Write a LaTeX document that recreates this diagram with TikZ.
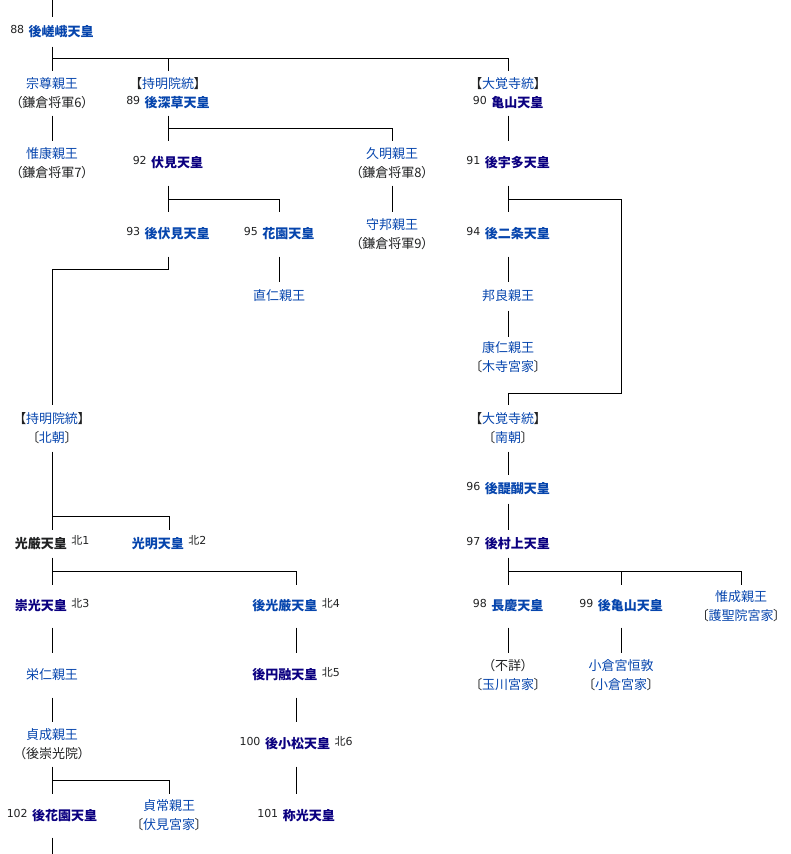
\documentclass[tikz,border=0pt]{standalone}
\usepackage{fontspec}
\setmainfont{Noto Sans CJK JP}[RawFeature=+palt]
\newfontfamily\numfont{DejaVu Sans}
\usepackage{tikz}
\definecolor{linkblue}{HTML}{0645AD}
\definecolor{visited}{HTML}{0B0080}
\definecolor{ink}{HTML}{202122}

\newcommand{\ban}[1]{\raisebox{3pt}[0pt][0pt]{\fontsize{11pt}{11pt}\selectfont\numfont #1}\hspace{4.5pt}}
\newcommand{\kita}[1]{\hspace{4.5pt}\raisebox{3.5pt}[0pt][0pt]{\fontsize{11pt}{11pt}\selectfont 北{\numfont #1}}}
\newcommand{\tenno}[1]{\textbf{\textcolor{linkblue}{#1}}}
\newcommand{\tennov}[1]{\textbf{\textcolor{visited}{#1}}}
\newcommand{\shinno}[1]{\textcolor{linkblue}{#1}}

\begin{document}
\begin{tikzpicture}[x=1pt, y=-1pt, line width=1pt,
    cell/.style={inner sep=0pt, align=center, text=ink,
      font=\fontsize{13pt}{19pt}\selectfont, minimum height=#1pt}]
  \useasboundingbox (0,0) rectangle (790,854);

  % kamakura
  \node[cell=29] (g88) at (52,31.5) {\ban{88}\tenno{後嵯峨天皇}};
  \node[cell=44] (munetaka) at (52,93) {\shinno{宗尊親王}\\（鎌倉将軍6）};
  \node[cell=44] (g89) at (168,93) {【\shinno{持明院統}】\\\ban{89}\tenno{後深草天皇}};
  \node[cell=44] (g90) at (508,93) {【\shinno{大覚寺統}】\\\ban{90}\tennov{亀山天皇}};
  \node[cell=44] (koreyasu) at (52,163) {\shinno{惟康親王}\\（鎌倉将軍7）};
  \node[cell=44] (g92) at (168,163) {\ban{92}\tennov{伏見天皇}};
  \node[cell=44] (hisaakira) at (392,163) {\shinno{久明親王}\\（鎌倉将軍8）};
  \node[cell=44] (g91) at (508,163) {\ban{91}\tennov{後宇多天皇}};
  \node[cell=44] (g93) at (168,234) {\ban{93}\tenno{後伏見天皇}};
  \node[cell=44] (g95) at (279,234) {\ban{95}\tenno{花園天皇}};
  \node[cell=44] (morikuni) at (392,234) {\shinno{守邦親王}\\（鎌倉将軍9）};
  \node[cell=44] (g94) at (508,234) {\ban{94}\tenno{後二条天皇}};
  \node[cell=28] (naohito) at (279,296) {\shinno{直仁親王}};
  \node[cell=28] (kuniyoshi) at (508,296) {\shinno{邦良親王}};
  \node[cell=40] (yasuhito) at (508,357) {\shinno{康仁親王}\\〔\shinno{木寺宮家}〕};

  % nanbokucho
  \node[cell=46] (hokucho) at (52,428) {【\shinno{持明院統}】\\〔\shinno{北朝}〕};
  \node[cell=46] (nancho) at (508,428) {【\shinno{大覚寺統}】\\〔\shinno{南朝}〕};
  \node[cell=28] (g96) at (508,489) {\ban{96}\tenno{後醍醐天皇}};
  \node[cell=27] (kogon) at (52,543.5) {\textbf{光厳天皇}\kita{1}};
  \node[cell=27] (komyo) at (169,543.5) {\tenno{光明天皇}\kita{2}};
  \node[cell=27] (g97) at (508,543.5) {\ban{97}\tennov{後村上天皇}};
  \node[cell=42] (suko) at (52,606) {\tennov{崇光天皇}\kita{3}};
  \node[cell=42] (gokogon) at (296,606) {\tenno{後光厳天皇}\kita{4}};
  \node[cell=42] (g98) at (508,606) {\ban{98}\tenno{長慶天皇}};
  \node[cell=42] (g99) at (621,606) {\ban{99}\tenno{後亀山天皇}};
  \node[cell=42] (koremasa) at (741,606) {\shinno{惟成親王}\\〔\shinno{護聖院宮家}〕};
  \node[cell=44] (yoshihito) at (52,675) {\shinno{栄仁親王}};
  \node[cell=44] (goenyu) at (296,675) {\tennov{後円融天皇}\kita{5}};
  \node[cell=44] (fusho) at (508,675) {（不詳）\\〔\shinno{玉川宮家}〕};
  \node[cell=44] (tsuneatsu) at (621,675) {\shinno{小倉宮恒敦}\\〔\shinno{小倉宮家}〕};
  \node[cell=44] (sadafusa) at (52,744) {\shinno{貞成親王}\\（後崇光院）};
  \node[cell=44] (g100) at (296,744) {\ban{100}\tennov{後小松天皇}\kita{6}};
  \node[cell=43] (g102) at (52,815.5) {\ban{102}\tennov{後花園天皇}};
  \node[cell=43] (sadatsune) at (169,815.5) {\shinno{貞常親王}\\〔\shinno{伏見宮家}〕};
  \node[cell=43] (g101) at (296,815.5) {\ban{101}\tennov{称光天皇}};

  % junctions
  \coordinate (top) at (52,0);
  \coordinate (bottom) at (52,854);
  \coordinate (j88) at (52,58);
  \coordinate (j89) at (168,128);
  \coordinate (j92) at (168,199);
  \coordinate (j91) at (508,199);
  \coordinate (k91) at (621,393);
  \coordinate (j93) at (168,269);
  \coordinate (jhoku) at (52,516);
  \coordinate (jkogon) at (52,571);
  \coordinate (j97) at (508,571);
  \coordinate (jsada) at (52,780);

  \draw (top) -- (g88);
  \draw (g88) -- (munetaka) (j88) -| (g89.north) (j88) -| (g90.north);
  \draw (munetaka) -- (koreyasu);
  \draw (g89) -- (g92) (j89) -| (hisaakira.north);
  \draw (hisaakira) -- (morikuni);
  \draw (g92) -- (g93) (j92) -| (g95.north);
  \draw (g95) -- (naohito);
  \draw (g90) -- (g91);
  \draw (g91) -- (g94) (j91) -| (k91) -| (nancho.north);
  \draw (g94) -- (kuniyoshi) -- (yasuhito);
  \draw (g93) -- (j93) -| (hokucho.north);
  \draw (hokucho) -- (kogon) (jhoku) -| (komyo.north);
  \draw (nancho) -- (g96) -- (g97);
  \draw (kogon) -- (suko) (jkogon) -| (gokogon.north);
  \draw (g97) -- (g98) (j97) -| (g99.north) (j97) -| (koremasa.north);
  \draw (g98) -- (fusho);
  \draw (g99) -- (tsuneatsu);
  \draw (suko) -- (yoshihito) -- (sadafusa) -- (g102) (jsada) -| (sadatsune.north);
  \draw (g102) -- (bottom);
  \draw (gokogon) -- (goenyu) -- (g100) -- (g101);
\end{tikzpicture}
\end{document}
